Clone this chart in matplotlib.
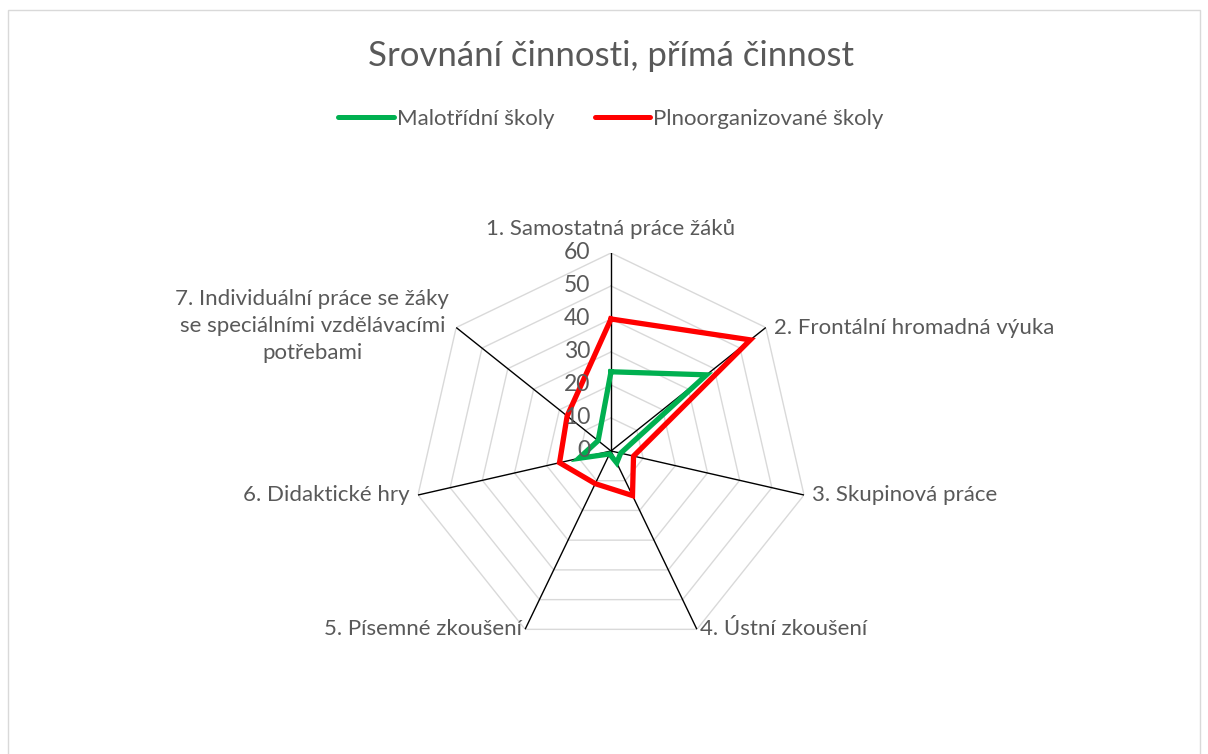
import numpy as np
import matplotlib.pyplot as plt
from matplotlib.lines import Line2D
from matplotlib.patches import Rectangle

plt.rcParams['font.family'] = ['Lato', 'DejaVu Sans']

# Kategorie a hodnoty
categories = [
    '1. Samostatná práce žáků',
    '2. Frontální hromadná výuka',
    '3. Skupinová práce',
    '4. Ústní zkoušení',
    '5. Písemné zkoušení',
    '6. Didaktické hry',
    '7. Individuální práce se žáky\nse speciálními vzdělávacími\npotřebami',
]
malotridni = [24, 37, 3, 4, 1, 10, 5]
plnoorganizovane = [40, 54, 7, 15, 11, 16, 17]
ticks = [0, 10, 20, 30, 40, 50, 60]

text_col = '#595959'
green = '#00b050'
red = '#ff0000'

n = len(categories)
theta = np.linspace(0, 2*np.pi, n, endpoint=False)
theta_c = np.append(theta, theta[0])

fig = plt.figure(figsize=(12.08, 7.54), dpi=100)
fig.patches.append(Rectangle((8/1208, -0.01), 1192/1208, 1 - 10/754 + 0.01,
                             transform=fig.transFigure, fill=False,
                             edgecolor='#d9d9d9', lw=1))

ax = fig.add_axes([0.3419, 0.1393, 0.3278, 0.5252], projection='polar')
ax.set_theta_offset(np.pi/2)
ax.set_theta_direction(-1)
ax.set_ylim(0, 60)
ax.grid(False)
ax.set_xticks([])
ax.set_yticks([])
ax.spines['polar'].set_visible(False)
ax.patch.set_alpha(0)

# heptagonová mřížka
for r in ticks[1:]:
    ax.plot(theta_c, [r]*(n+1), color='#d9d9d9', lw=1, zorder=1)
for t in theta:
    ax.plot([t, t], [0, 60], color='black', lw=1, zorder=2)

ax.plot(theta_c, np.append(malotridni, malotridni[0]), color=green, lw=3.8,
        solid_joinstyle='miter', zorder=4)
ax.plot(theta_c, np.append(plnoorganizovane, plnoorganizovane[0]), color=red,
        lw=3.8, solid_joinstyle='miter', zorder=3)

# popisky osy hodnot
for v in ticks:
    ax.annotate(str(v), (0, v), xytext=(-15, 0), textcoords='offset points',
                ha='right', va='center', fontsize=16.5, color=text_col, zorder=5)

# popisky kategorií
places = [
    dict(xytext=(0, 10), ha='center', va='bottom'),
    dict(xytext=(6, 0), ha='left', va='center'),
    dict(xytext=(6, 0), ha='left', va='center'),
    dict(xytext=(2, 0), ha='left', va='center'),
    dict(xytext=(-2, 0), ha='right', va='center'),
    dict(xytext=(-6, 0), ha='right', va='center'),
    dict(xytext=(-5, 1), ha='right', va='center'),
]
for t, lab, p in zip(theta, categories, places):
    ax.annotate(lab, (t, 60), textcoords='offset points', fontsize=16,
                color=text_col, multialignment='center', linespacing=1.45,
                annotation_clip=False, **p)

fig.text(0.5058, 1 - 56/754, 'Srovnání činnosti, přímá činnost', ha='center',
         va='center', fontsize=25, color=text_col)

handles = [Line2D([], [], color=green, lw=3.6, solid_capstyle='round'),
           Line2D([], [], color=red, lw=3.6, solid_capstyle='round')]
fig.legend(handles, ['Malotřídní školy', 'Plnoorganizované školy'],
           loc='center', bbox_to_anchor=(0.5058, 1 - 119/754), ncol=2,
           frameon=False, fontsize=16, labelcolor=text_col,
           handlelength=2.5, handletextpad=0.15, columnspacing=1.8)

fig.savefig('out.png', dpi=100)
